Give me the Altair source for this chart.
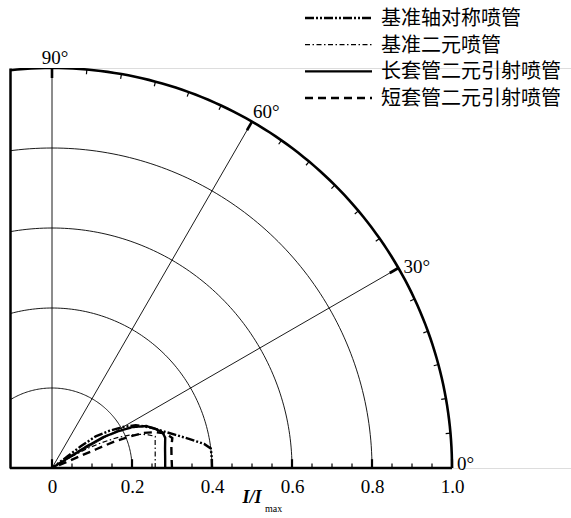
import altair as alt
import pandas as pd

# ---------------- data ----------------
series_names = ["基准轴对称喷管", "基准二元喷管", "长套管二元引射喷管", "短套管二元引射喷管"]

# radiation angle (deg) and normalised intensity I/Imax for each nozzle
theta_axi = [0, 4, 7, 9, 12, 15, 18, 21, 24, 27, 30, 33, 36, 37, 37, 36]
r_axi = [0.40, 0.40, 0.40, 0.385, 0.35, 0.32, 0.295, 0.275, 0.255, 0.235, 0.205, 0.17, 0.135, 0.09, 0.05, 0.0]

theta_2d = [0, 5, 10, 15, 17, 19, 21, 23, 25, 27, 29, 30, 30]
r_2d = [0.258, 0.259, 0.262, 0.267, 0.27, 0.255, 0.235, 0.21, 0.18, 0.14, 0.10, 0.06, 0.0]

theta_long = [0, 5, 10, 15, 18, 21, 24, 27, 29, 31, 32, 32, 31]
r_long = [0.283, 0.284, 0.287, 0.293, 0.29, 0.275, 0.258, 0.225, 0.19, 0.15, 0.10, 0.05, 0.0]

theta_short = [0, 5, 10, 14, 17, 19, 21, 22, 23, 23, 23, 22, 20]
r_short = [0.30, 0.30, 0.303, 0.31, 0.296, 0.275, 0.245, 0.21, 0.17, 0.12, 0.08, 0.04, 0.0]

grid_radii = [0.2, 0.4, 0.6, 0.8]
spoke_angles = [30, 60, 90]
label_angles = [0, 30, 60, 90]
angle_labels = ["0°", "30°", "60°", "90°"]
x_tick_values = [0, 0.2, 0.4, 0.6, 0.8, 1.0]

X_MIN = -0.105
X_VIEW_MAX = 1.2975   # plotting area runs on to the right edge; the radius axis stops at 1.0
R_MAX = 1.0

# ---------------- tables ----------------
rows = []
for name, th, rr in zip(series_names,
                        [theta_axi, theta_2d, theta_long, theta_short],
                        [r_axi, r_2d, r_long, r_short]):
    for k, (t, r) in enumerate(zip(th, rr)):
        rows.append({"series": name, "k": k, "theta": t, "r": r})
curves = pd.DataFrame(rows)

arc_rows = []
for rad in grid_radii + [R_MAX]:
    for a in range(0, 181):
        arc_rows.append({"rad": rad, "theta": a})
arcs = pd.DataFrame(arc_rows)

spokes = pd.DataFrame({"theta": spoke_angles})
arc_ticks = pd.DataFrame({"theta": list(range(5, 91, 5))})
arc_ticks["major"] = arc_ticks["theta"] % 30 == 0
x_ticks = pd.DataFrame({"v": [round(i * 0.05, 2) for i in range(0, 21)]})
x_ticks["major"] = [i % 4 == 0 for i in range(0, 21)]
baseline = pd.DataFrame({"x": [X_MIN], "x2": [R_MAX]})

legend_rows = pd.DataFrame({"series": series_names, "row": list(range(len(series_names)))})

# ---------------- scales / axes ----------------
xs = alt.Scale(domain=[X_MIN, X_VIEW_MAX], nice=False, zero=False)
ys = alt.Scale(domain=[0, 1.0], nice=False, zero=False)
x_axis = alt.Axis(values=x_tick_values, ticks=False, grid=False, domain=False,
                  labelFont="Liberation Serif",
                  labelFontSize=19, labelColor="black", labelPadding=9,
                  labelExpr="datum.value == 0 ? '0' : format(datum.value, '.1f')",
                  title=None)
y_axis = alt.Axis(ticks=False, grid=False, labels=False, domain=True,
                  domainColor="black", domainWidth=2.5, title=None)


def X(f="x"):
    return alt.X(f + ":Q", scale=xs, axis=x_axis)


def Y(f="y"):
    return alt.Y(f + ":Q", scale=ys, axis=y_axis)


DEG = "PI/180"

# polar grid, cut by the left frame at x = X_MIN
arc_base = alt.Chart(arcs).transform_calculate(
    x=f"datum.rad*cos(datum.theta*{DEG})", y=f"datum.rad*sin(datum.theta*{DEG})"
)
grid = arc_base.transform_filter(f"datum.rad < {R_MAX}").mark_line(
    clip=True, color="black", strokeWidth=0.9).encode(x=X(), y=Y(), detail="rad:N", order="theta:Q")
outer_arc = arc_base.transform_filter(f"datum.rad == {R_MAX}").mark_line(
    clip=True, color="black", strokeWidth=2.6).encode(x=X(), y=Y(), order="theta:Q")

# radius axis line along the bottom
base_line = alt.Chart(baseline).transform_calculate(y="0").mark_rule(
    color="black", strokeWidth=2.5).encode(x=X(), x2="x2:Q", y=Y())

spoke = alt.Chart(spokes).transform_calculate(
    x="0", y="0", x2=f"cos(datum.theta*{DEG})", y2=f"sin(datum.theta*{DEG})"
).mark_rule(color="black", strokeWidth=0.9).encode(
    x=X(), y=Y(), x2="x2:Q", y2="y2:Q")

# ticks on the outer arc (every 5 deg) and along the radius axis (every 0.05)
atick_base = alt.Chart(arc_ticks).transform_calculate(
    rin="datum.major ? 0.975 : 0.988",
).transform_calculate(
    x=f"datum.rin*cos(datum.theta*{DEG})", y=f"datum.rin*sin(datum.theta*{DEG})",
    x2=f"cos(datum.theta*{DEG})", y2=f"sin(datum.theta*{DEG})")
aticks_major = atick_base.transform_filter("datum.major").mark_rule(
    color="black", strokeWidth=2.6).encode(x=X(), y=Y(), x2="x2:Q", y2="y2:Q")
aticks_minor = atick_base.transform_filter("!datum.major").mark_rule(
    color="black", strokeWidth=1.2).encode(x=X(), y=Y(), x2="x2:Q", y2="y2:Q")

xt_base = alt.Chart(x_ticks).transform_calculate(
    y="0", y2="datum.major ? 0.022 : 0.011")
xt_major = xt_base.transform_filter("datum.major").mark_rule(
    color="black", strokeWidth=2.2).encode(x=X("v"), y=Y(), y2="y2:Q")
xt_minor = xt_base.transform_filter("!datum.major").mark_rule(
    color="black", strokeWidth=1.2).encode(x=X("v"), y=Y(), y2="y2:Q")

# line style per nozzle
dash_scale = alt.Scale(type="ordinal", domain=series_names,
                       range=[[9, 2, 2, 2, 2, 2], [5, 2.5, 1.5, 2.5], [1, 0], [8, 5]])
width_scale = alt.Scale(type="ordinal", domain=series_names, range=[2.4, 1.2, 2.4, 2.4])

lines = alt.Chart(curves).transform_calculate(
    x=f"datum.r*cos(datum.theta*{DEG})", y=f"datum.r*sin(datum.theta*{DEG})"
).mark_line(color="black").encode(
    x=X(), y=Y(), order="k:Q",
    strokeDash=alt.StrokeDash("series:N", scale=dash_scale, legend=None),
    strokeWidth=alt.StrokeWidth("series:N", scale=width_scale, legend=None),
    detail="series:N")

# hand-built legend above the quadrant, placed in data units of the shared scales
leg_base = alt.Chart(legend_rows).transform_calculate(
    ly="1.125 - datum.row * 0.0667", lx="0.6325", lx2="0.80", tx="0.8225")
leg_lines = leg_base.mark_rule(color="black").encode(
    x=X("lx"), x2="lx2:Q", y=Y("ly"),
    strokeDash=alt.StrokeDash("series:N", scale=dash_scale, legend=None),
    strokeWidth=alt.StrokeWidth("series:N", scale=width_scale, legend=None))
leg_text = leg_base.mark_text(align="left", baseline="middle", font="Noto Sans CJK SC",
                              fontSize=20, color="black", dy=1).encode(
    x=X("tx"), y=Y("ly"), text="series:N")

# angle labels around the outer arc
label_offsets = {0: ("left", 5, 2), 30: ("left", 5, 5), 60: ("left", 1, -4), 90: ("center", 3, -4)}
label_layers = []
for a, txt in zip(label_angles, angle_labels):
    al, dx, dy = label_offsets[a]
    df = pd.DataFrame({"theta": [a], "t": [txt]})
    label_layers.append(
        alt.Chart(df).transform_calculate(
            x=f"cos(datum.theta*{DEG})", y=f"sin(datum.theta*{DEG})"
        ).mark_text(align=al, baseline="alphabetic", dx=dx, dy=dy, font="Liberation Serif",
                    fontSize=19, color="black").encode(x=X(), y=Y(), text="t:N"))

title_main = alt.Chart(pd.DataFrame({"t": ["I/I"]})).mark_text(
    align="center", baseline="alphabetic", font="Liberation Serif", fontSize=18,
    fontStyle="italic", fontWeight="bold", color="black"
).encode(x=alt.value(242), y=alt.value(435), text="t:N")
title_sub = alt.Chart(pd.DataFrame({"t": ["max"]})).mark_text(
    align="left", baseline="alphabetic", font="Liberation Serif", fontSize=10, color="black"
).encode(x=alt.value(255), y=alt.value(444), text="t:N")

chart = alt.layer(grid, outer_arc, base_line, spoke, aticks_major, aticks_minor, xt_major, xt_minor,
                  lines, leg_lines, leg_text, *label_layers, title_main, title_sub
                  ).properties(
    width=561, height=400, autosize="none",
    padding={"left": 10, "top": 68, "right": 0, "bottom": 50},
).configure_view(stroke="transparent", strokeWidth=0).configure(background="white")

chart.save("out.html", embed_options={"renderer": "svg", "actions": False})
